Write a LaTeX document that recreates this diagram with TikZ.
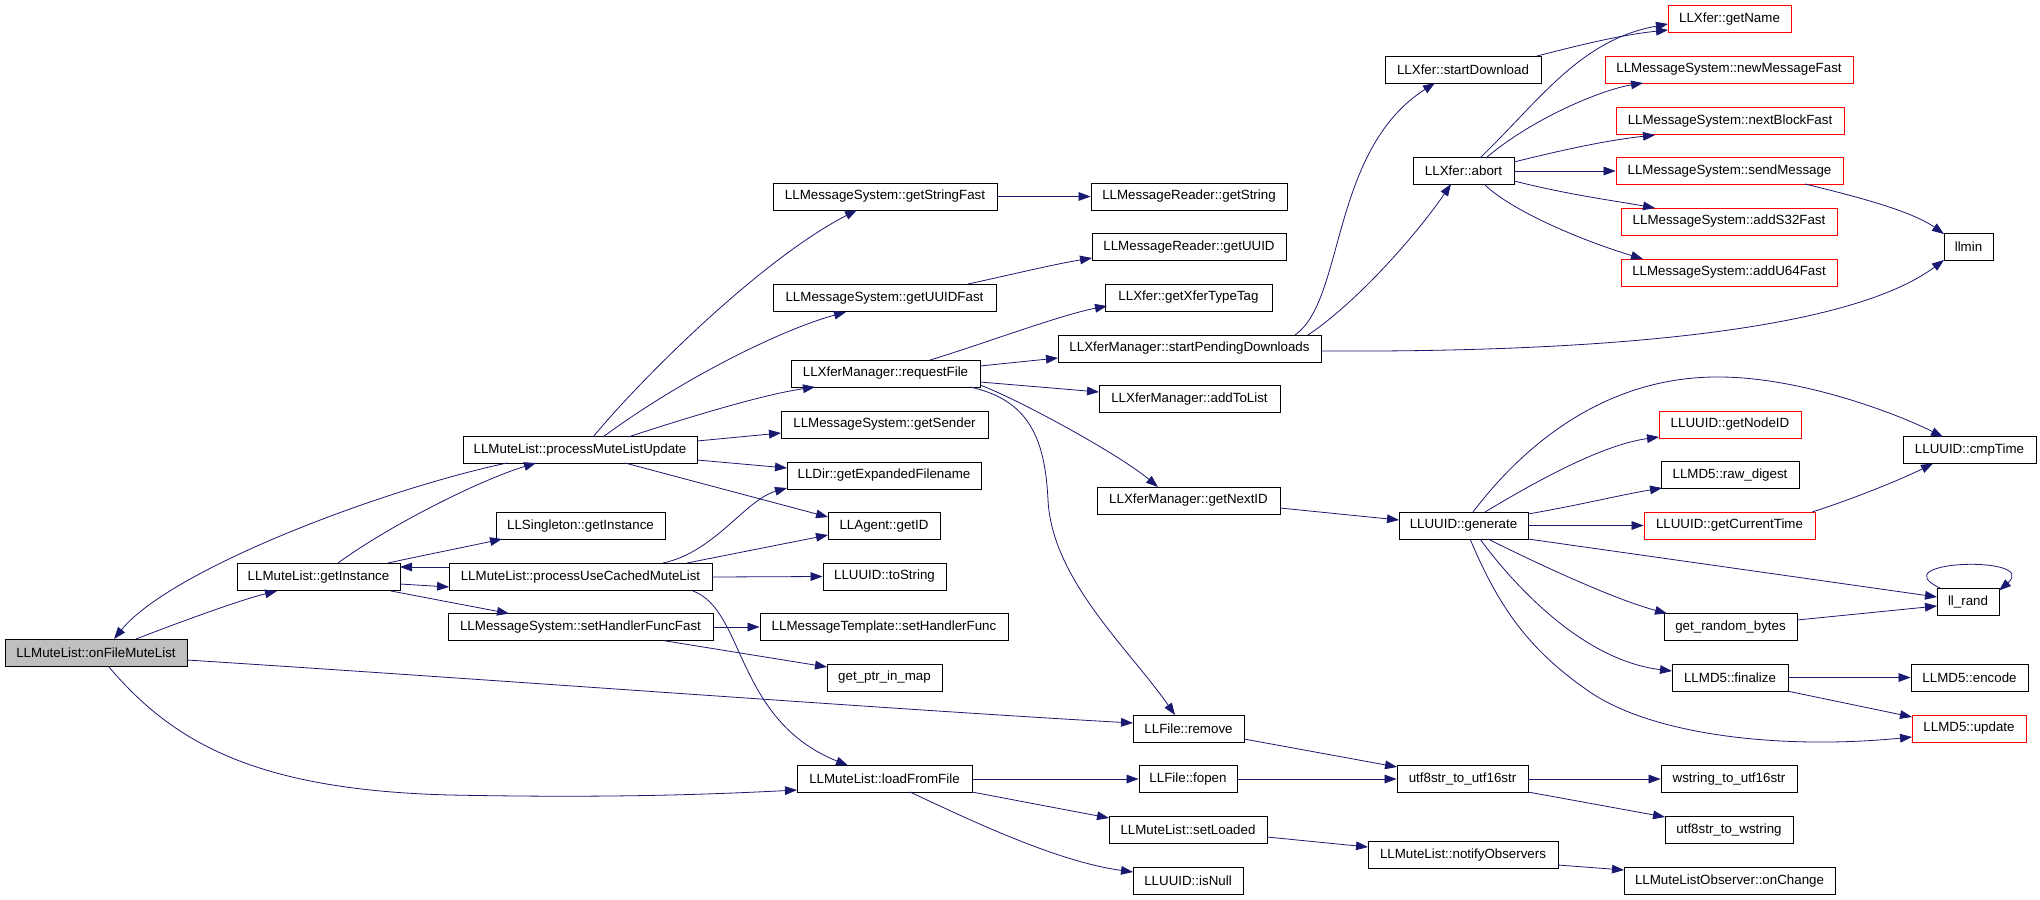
\documentclass[tikz,border=0pt]{standalone}
\usepackage{fontspec}
\setmainfont{Liberation Sans}
\usetikzlibrary{arrows.meta,calc}
\definecolor{edgec}{HTML}{191970}
\definecolor{grayfill}{HTML}{BFBFBF}
\begin{document}
\begin{tikzpicture}[x=0.75pt,y=-0.75pt,
  box/.style={draw=black,line width=0.7pt,fill=white,inner sep=0pt,
    font=\fontsize{10}{12}\selectfont,minimum height=20.25pt},
  w/.style={minimum width=#1*0.75pt},
  redbox/.style={box,draw=red},
  e/.style={draw=edgec,line width=0.6pt,-{Triangle[length=9pt,width=6.5pt]}}]
\fill[white] (0,0) rectangle (2040,899);
\useasboundingbox (0,0) rectangle (2040,899);

% nodes
\node[redbox,w=123] (gn) at (1729.5,19) {LLXfer::getName};
\node[box,w=156] (sd) at (1463,69.5) {LLXfer::startDownload};
\node[redbox,w=248] (nmf) at (1729,69.5) {LLMessageSystem::newMessageFast};
\node[redbox,w=228] (nbf) at (1730,121) {LLMessageSystem::nextBlockFast};
\node[box,w=101] (ab) at (1463.5,171) {LLXfer::abort};
\node[redbox,w=227] (sm) at (1729.5,171) {LLMessageSystem::sendMessage};
\node[box,w=224] (gsf) at (885,196.5) {LLMessageSystem::getStringFast};
\node[box,w=196] (gstr) at (1189,196.5) {LLMessageReader::getString};
\node[redbox,w=216] (s32) at (1729,221.5) {LLMessageSystem::addS32Fast};
\node[box,w=49] (llmin) at (1968.5,247) {llmin};
\node[box,w=194] (guuid) at (1189,247) {LLMessageReader::getUUID};
\node[redbox,w=216] (u64) at (1729,272.5) {LLMessageSystem::addU64Fast};
\node[box,w=223] (guf) at (884.5,298) {LLMessageSystem::getUUIDFast};
\node[box,w=167] (gxtt) at (1188.5,297.5) {LLXfer::getXferTypeTag};
\node[box,w=263] (spd) at (1189.5,348.5) {LLXferManager::startPendingDownloads};
\node[box,w=189] (rf) at (885.5,373.5) {LLXferManager::requestFile};
\node[box,w=181] (atl) at (1189.5,399) {LLXferManager::addToList};
\node[box,w=207] (gs) at (884.5,424.5) {LLMessageSystem::getSender};
\node[redbox,w=142] (gnode) at (1730,424.5) {LLUUID::getNodeID};
\node[box,w=234] (pmlu) at (580,450) {LLMuteList::processMuteListUpdate};
\node[box,w=133] (cmp) at (1969.5,450) {LLUUID::cmpTime};
\node[box,w=194] (gef) at (884,475.5) {LLDir::getExpandedFilename};
\node[box,w=138] (raw) at (1730,475) {LLMD5::raw\_digest};
\node[box,w=183] (gnid) at (1188.5,500.5) {LLXferManager::getNextID};
\node[box,w=169] (sing) at (580.5,526) {LLSingleton::getInstance};
\node[box,w=112] (gid) at (884,526) {LLAgent::getID};
\node[box,w=129] (gen) at (1463.5,525.5) {LLUUID::generate};
\node[redbox,w=171] (gct) at (1729.5,525.5) {LLUUID::getCurrentTime};
\node[box,w=163] (gi) at (318.5,577) {LLMuteList::getInstance};
\node[box,w=263] (pucml) at (580.5,577) {LLMuteList::processUseCachedMuteList};
\node[box,w=123] (tostr) at (884.5,576.5) {LLUUID::toString};
\node[box,w=62] (llr) at (1968,601.5) {ll\_rand};
\node[box,w=265] (shff) at (580.5,627) {LLMessageSystem::setHandlerFuncFast};
\node[box,w=248] (shf) at (884,627) {LLMessageTemplate::setHandlerFunc};
\node[box,w=133] (grb) at (1730.5,627) {get\_random\_bytes};
\node[box,w=182,fill=grayfill] (ofml) at (96,653) {LLMuteList::onFileMuteList};
\node[box,w=115] (gpim) at (884.5,677.5) {get\_ptr\_in\_map};
\node[box,w=116] (fin) at (1730,677.5) {LLMD5::finalize};
\node[box,w=117] (enc) at (1969.5,677.5) {LLMD5::encode};
\node[box,w=111] (rem) at (1188.5,728.5) {LLFile::remove};
\node[redbox,w=114] (upd) at (1969,728.5) {LLMD5::update};
\node[box,w=175] (lff) at (884.5,779) {LLMuteList::loadFromFile};
\node[box,w=98] (fop) at (1188,779) {LLFile::fopen};
\node[box,w=131] (u16) at (1462.5,779) {utf8str\_to\_utf16str};
\node[box,w=136] (ws) at (1729,779) {wstring\_to\_utf16str};
\node[box,w=158] (sl) at (1188,830) {LLMuteList::setLoaded};
\node[box,w=128] (u8w) at (1729,830) {utf8str\_to\_wstring};
\node[box,w=190] (no) at (1463,855) {LLMuteList::notifyObservers};
\node[box,w=110] (isn) at (1188,881) {LLUUID::isNull};
\node[box,w=211] (oc) at (1729.5,881) {LLMuteListObserver::onChange};

% edges
\draw[e] ($(ofml)+(40,-14)$) .. controls (180,622) and (240,600) .. ($(gi)+(-41.5,14)$);
\draw[e] ($(pmlu)+(-73,13)$) .. controls (380,490) and (170,570) .. ($(ofml)+(18,-14)$);
\draw[e] ($(gi)+(19.5,-14)$) .. controls (390,525) and (480,480) .. ($(pmlu)+(-44,13)$);
\draw[e] ($(gi)+(69.5,-14)$) .. controls (420,556) and (470,546) .. ($(sing)+(-78.5,13)$);
\draw[e] ($(pucml)+(-131.5,-10)$) -- ($(gi)+(81.5,-10)$);
\draw[e] ($(gi)+(81.5,7)$) -- ($(pucml)+(-131.5,10)$);
\draw[e] ($(gi)+(72.5,14)$) -- ($(shff)+(-71.5,-13.5)$);

\draw[e] ($(pmlu)+(13,-13)$) .. controls (640,380) and (760,260) .. ($(gsf)+(-28,13.5)$);
\draw[e] ($(pmlu)+(23,-13)$) .. controls (680,380) and (780,330) .. ($(guf)+(-38.5,14)$);
\draw[e] ($(pmlu)+(48,-13)$) .. controls (680,420) and (760,395) .. ($(rf)+(-70.5,13.5)$);
\draw[e] ($(pmlu)+(117,-9)$) -- ($(gs)+(-103.5,8.5)$);
\draw[e] ($(pmlu)+(117,10)$) -- ($(gef)+(-97,-7.5)$);
\draw[e] ($(pmlu)+(45,13)$) -- ($(gid)+(-56,-9)$);

\draw[e] ($(pucml)+(82.5,-14)$) .. controls (715,552) and (745,500) .. ($(gef)+(-97,12.5)$);
\draw[e] ($(pucml)+(106.5,-14)$) -- ($(gid)+(-56,9)$);
\draw[e] (pucml.east) -- (tostr.west);
\draw[e] ($(pucml)+(112.5,14)$) .. controls (745,610) and (735,720) .. ($(lff)+(-36.5,-13.5)$);

\draw[e] (shff.east) -- (shf.west);
\draw[e] ($(shff)+(82.5,13.5)$) -- ($(gpim)+(-57.5,-10.5)$);

\draw[e] ($(ofml)+(91,7)$) .. controls (500,680) and (900,710) .. ($(rem)+(-55.5,-5.5)$);
\draw[e] ($(ofml)+(13,14)$) .. controls (175,745) and (260,790) .. (450,795)
  .. controls (600,798) and (700,795) .. ($(lff)+(-87.5,11)$);

\draw[e] (gsf.east) -- (gstr.west);
\draw[e] ($(guf)+(83.5,-14)$) .. controls (1010,275) and (1050,265) .. ($(guuid)+(-97,11)$);

\draw[e] ($(rf)+(44.5,-13.5)$) .. controls (980,345) and (1060,315) .. ($(gxtt)+(-81.5,8.5)$);
\draw[e] ($(rf)+(94.5,-7.5)$) -- ($(spd)+(-131.5,9.5)$);
\draw[e] ($(rf)+(94.5,8.5)$) -- ($(atl)+(-90.5,-7)$);
\draw[e] ($(rf)+(94.5,11.5)$) .. controls (1020,400) and (1120,455) .. ($(gnid)+(-30.5,-13.5)$);
\draw[e] ($(rf)+(84.5,13.5)$) .. controls (1030,400) and (1045,440) .. (1048,500)
  .. controls (1052,580) and (1130,650) .. ($(rem)+(-13.5,-13.5)$);

\draw[e] ($(spd)+(105.5,-13.5)$) .. controls (1345,300) and (1330,150) .. ($(sd)+(-28,13.5)$);
\draw[e] ($(spd)+(118.5,-13.5)$) .. controls (1360,300) and (1420,230) .. ($(ab)+(-12.5,13)$);
\draw[e] ($(spd)+(131.5,2.5)$) .. controls (1500,352) and (1830,345) .. ($(llmin)+(-24.5,13)$);

\draw[e] ($(sd)+(74,-13.5)$) .. controls (1580,45) and (1620,35) .. ($(gn)+(-61.5,11)$);
\draw[e] ($(ab)+(16.5,-13)$) .. controls (1540,100) and (1580,40) .. ($(gn)+(-61.5,5)$);
\draw[e] ($(ab)+(22.5,-13)$) .. controls (1530,120) and (1600,90) .. ($(nmf)+(-86,13.5)$);
\draw[e] ($(ab)+(50.5,-9)$) .. controls (1570,148) and (1610,140) .. ($(nbf)+(-75,14)$);
\draw[e] (ab.east) -- (sm.west);
\draw[e] ($(ab)+(50.5,10)$) .. controls (1570,195) and (1610,200) .. ($(s32)+(-74,-13.5)$);
\draw[e] ($(ab)+(20.5,13)$) .. controls (1510,210) and (1580,240) .. ($(u64)+(-86,-13.5)$);
\draw[e] ($(sm)+(75.5,13)$) .. controls (1850,195) and (1910,210) .. ($(llmin)+(-24.5,-13)$);

\draw[e] ($(gnid)+(91.5,7.5)$) -- ($(gen)+(-64.5,-5.5)$);
\draw[e] ($(gen)+(9.5,-13.5)$) .. controls (1520,450) and (1600,378) .. (1715,377)
  .. controls (1800,376) and (1900,415) .. ($(cmp)+(-26.5,-13)$);
\draw[e] ($(gen)+(21.5,-13.5)$) .. controls (1530,485) and (1600,445) .. ($(gnode)+(-71,12.5)$);
\draw[e] ($(gen)+(64.5,-11.5)$) .. controls (1580,505) and (1620,495) .. ($(raw)+(-68,13)$);
\draw[e] (gen.east) -- (gct.west);
\draw[e] ($(gen)+(64.5,13.5)$) -- ($(llr)+(-31,-4.5)$);
\draw[e] ($(gen)+(24.5,13.5)$) .. controls (1530,560) and (1610,598) .. ($(grb)+(-63.5,-13.5)$);
\draw[e] ($(gen)+(16.5,13.5)$) .. controls (1510,580) and (1580,660) .. ($(fin)+(-58,-6.5)$);
\draw[e] ($(gen)+(6.5,13.5)$) .. controls (1500,610) and (1530,650) .. (1587,690)
  .. controls (1650,735) and (1780,750) .. ($(upd)+(-57,8.5)$);
\draw[e] ($(gct)+(82.5,-13.5)$) .. controls (1850,500) and (1900,480) .. ($(cmp)+(-36.5,13.5)$);
\draw[e] ($(grb)+(66.5,-7)$) -- ($(llr)+(-31,4.5)$);
\draw[e] ($(llr)+(-28,-13.5)$) .. controls (1880,560) and (2040,555) .. ($(llr)+(31,-11)$);
\draw[e] (fin.east) -- (enc.west);
\draw[e] ($(fin)+(57,13.5)$) -- ($(upd)+(-57,-11.5)$);

\draw[e] ($(rem)+(55.5,10.5)$) -- ($(u16)+(-65.5,-12)$);
\draw[e] (fop.east) -- (u16.west);
\draw[e] (lff.east) -- (fop.west);
\draw[e] ($(lff)+(87.5,13)$) -- ($(sl)+(-79,-12)$);
\draw[e] ($(lff)+(25.5,13)$) .. controls (980,825) and (1060,862) .. ($(isn)+(-55,-9)$);
\draw[e] (u16.east) -- (ws.west);
\draw[e] ($(u16)+(65.5,13)$) -- ($(u8w)+(-64,-13)$);
\draw[e] ($(sl)+(79,7)$) -- ($(no)+(-95,-8)$);
\draw[e] ($(no)+(95,10)$) -- ($(oc)+(-105.5,-11)$);
\end{tikzpicture}
\end{document}
